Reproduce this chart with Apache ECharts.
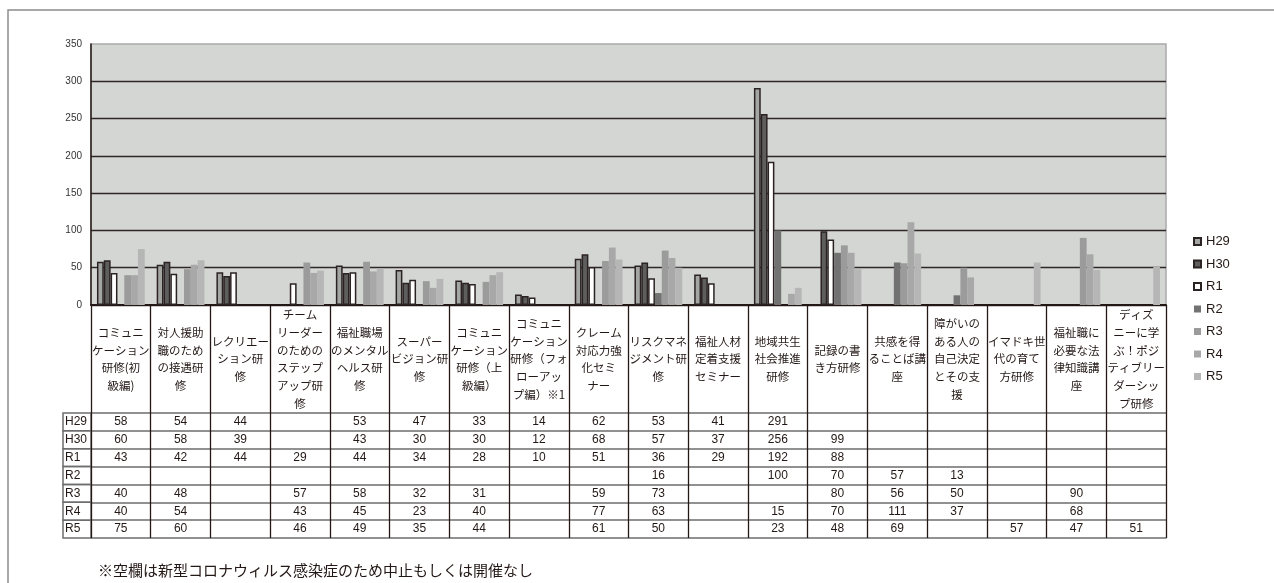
<!DOCTYPE html>
<html>
<head>
<meta charset="utf-8">
<style>
  html, body { margin: 0; padding: 0; background: #ffffff; }
  #chart { width: 1274px; height: 583px; }
</style>
<script src="https://cdn.jsdelivr.net/npm/echarts@6/dist/echarts.min.js"></script>
</head>
<body>
<div id="chart"></div>
<script>
// Training course names (line breaks as laid out in the table header)
const categories = [
  'コミュニ\nケーション\n研修(初\n級編)',
  '対人援助\n職のため\nの接遇研\n修',
  'レクリエー\nション研\n修',
  'チーム\nリーダー\nのための\nステップ\nアップ研\n修',
  '福祉職場\nのメンタル\nヘルス研\n修',
  'スーパー\nビジョン研\n修',
  'コミュニ\nケーション\n研修（上\n級編）',
  'コミュニ\nケーション\n研修（フォ\nローアッ\nプ編）※1',
  'クレーム\n対応力強\n化セミ\nナー',
  'リスクマネ\nジメント研\n修',
  '福祉人材\n定着支援\nセミナー',
  '地域共生\n社会推進\n研修',
  '記録の書\nき方研修',
  '共感を得\nることば講\n座',
  '障がいの\nある人の\n自己決定\nとその支\n援',
  'イマドキ世\n代の育て\n方研修',
  '福祉職に\n必要な法\n律知識講\n座',
  'ディズ\nニーに学\nぶ！ポジ\nティブリー\nダーシッ\nプ研修'
];

// Participants per fiscal year (null = not held)
const H29 = [58, 54, 44, null, 53, 47, 33, 14, 62, 53, 41, 291, null, null, null, null, null, null];
const H30 = [60, 58, 39, null, 43, 30, 30, 12, 68, 57, 37, 256, 99, null, null, null, null, null];
const R1  = [43, 42, 44, 29, 44, 34, 28, 10, 51, 36, 29, 192, 88, null, null, null, null, null];
const R2  = [null, null, null, null, null, null, null, null, null, 16, null, 100, 70, 57, 13, null, null, null];
const R3  = [40, 48, null, 57, 58, 32, 31, null, 59, 73, null, null, 80, 56, 50, null, 90, null];
const R4  = [40, 54, null, 43, 45, 23, 40, null, 77, 63, null, 15, 70, 111, 37, null, 68, null];
const R5  = [75, 60, null, 46, 49, 35, 44, null, 61, 50, null, 23, 48, 69, null, 57, 47, 51];

const seriesNames = ['H29', 'H30', 'R1', 'R2', 'R3', 'R4', 'R5'];
const seriesData = [H29, H30, R1, R2, R3, R4, R5];

const yTicks = { min: 0, max: 350, interval: 50 };
const note = '※空欄は新型コロナウィルス感染症のため中止もしくは開催なし';

// ---- styling ----
const INK = '#231815';
const JP = '"Noto Sans CJK JP", sans-serif';
const LATIN = '"Liberation Sans", Arial, sans-serif';
const EDGE = '#2b2323';
const fills = ['#a4a6a4', '#5e5e5e', '#ffffff', '#727272', '#9b9b9b', '#a8a8a8', '#b6b6b6'];
const outlined = [true, true, true, false, false, false, false];

const HEADER_H = 108;   // height of the course-name header under the plot
const ROW_H = 17.86;    // height of each data-table row
const TABLE_H = HEADER_H + ROW_H * seriesNames.length;

const chart = echarts.init(document.getElementById('chart'), null, { renderer: 'canvas' });

// main category axis: course names + vertical table rules via long ticks
const xAxes = [{
  type: 'category',
  data: categories,
  gridIndex: 0,
  position: 'bottom',
  axisLine: { show: true, lineStyle: { color: INK, width: 2 } },
  axisTick: { show: true, interval: 0, length: TABLE_H, lineStyle: { color: INK, width: 1.3 } },
  axisLabel: {
    interval: 0,
    margin: HEADER_H / 2,
    verticalAlign: 'middle',
    align: 'center',
    fontFamily: JP,
    fontSize: 11.5,
    lineHeight: 17.7,
    color: INK
  },
  splitLine: { show: false }
}];

// one axis per table row, its labels showing that year's values
seriesData.forEach(function (vals, i) {
  xAxes.push({
    type: 'category',
    data: categories,
    gridIndex: 0,
    position: 'bottom',
    offset: HEADER_H + ROW_H * i,
    axisLine: { show: true, lineStyle: { color: '#6e6e6e', width: 1.5 } },
    axisTick: { show: false },
    axisLabel: {
      interval: 0,
      margin: ROW_H / 2,
      verticalAlign: 'middle',
      align: 'center',
      fontFamily: LATIN,
      fontSize: 12,
      color: INK,
      formatter: function (v, idx) { return vals[idx] == null ? '' : String(vals[idx]); }
    },
    name: '{r|' + seriesNames[i] + '}',
    nameLocation: 'start',
    nameGap: 0,
    nameTextStyle: {
      align: 'right',
      verticalAlign: 'top',
      borderColor: '#6e6e6e',
      borderWidth: 1.5,
      padding: [0, 0, 0, 2],
      rich: {
        r: {
          width: 26, height: ROW_H, lineHeight: ROW_H,
          align: 'left', verticalAlign: 'middle',
          fontFamily: LATIN, fontSize: 12, color: INK
        }
      }
    },
    splitLine: { show: false }
  });
});

// closing rule under the last table row
xAxes.push({
  type: 'category',
  data: categories,
  gridIndex: 0,
  position: 'bottom',
  offset: TABLE_H,
  axisLine: { show: true, lineStyle: { color: '#6e6e6e', width: 1.5 } },
  axisTick: { show: false },
  axisLabel: { show: false },
  splitLine: { show: false }
});

const series = seriesNames.map(function (name, i) {
  const style = { color: fills[i] };
  if (outlined[i]) { style.borderColor = EDGE; style.borderWidth = 1.5; }
  return {
    name: name,
    type: 'bar',
    xAxisIndex: 0,
    yAxisIndex: 0,
    data: seriesData[i],
    barGap: '0%',
    barCategoryGap: '20%',
    itemStyle: style,
    emphasis: { disabled: true }
  };
});

chart.setOption({
  animation: false,
  backgroundColor: '#ffffff',
  grid: {
    left: 91, right: 108, top: 44, bottom: 278,
    show: true,
    backgroundColor: '#d4d6d4',
    borderColor: '#a9a9a9',
    borderWidth: 1.5
  },
  legend: {
    orient: 'vertical',
    left: 1188,
    top: 229,
    itemWidth: 7,
    itemHeight: 7,
    itemGap: 7.5,
    icon: 'rect',
    textStyle: { fontFamily: LATIN, fontSize: 13, lineHeight: 15, color: INK },
    data: seriesNames
  },
  xAxis: xAxes,
  yAxis: {
    type: 'value',
    min: yTicks.min,
    max: yTicks.max,
    interval: yTicks.interval,
    axisLine: { show: true, lineStyle: { color: INK, width: 1.5 } },
    axisTick: { show: false },
    axisLabel: { margin: 9, fontFamily: LATIN, fontSize: 10, color: '#333333' },
    splitLine: { show: true, showMaxLine: false, lineStyle: { color: '#2d2727', width: 1.3 } }
  },
  series: series,
  graphic: [
    {
      type: 'rect',
      shape: { x: 8, y: 10, width: 1300, height: 620 },
      style: { fill: null, stroke: '#8c8c8c', lineWidth: 1.5 },
      silent: true
    },
    {
      type: 'text',
      left: 98,
      top: 563,
      style: { text: note, font: '15px ' + JP, fill: INK }
    }
  ]
});
</script>
</body>
</html>
